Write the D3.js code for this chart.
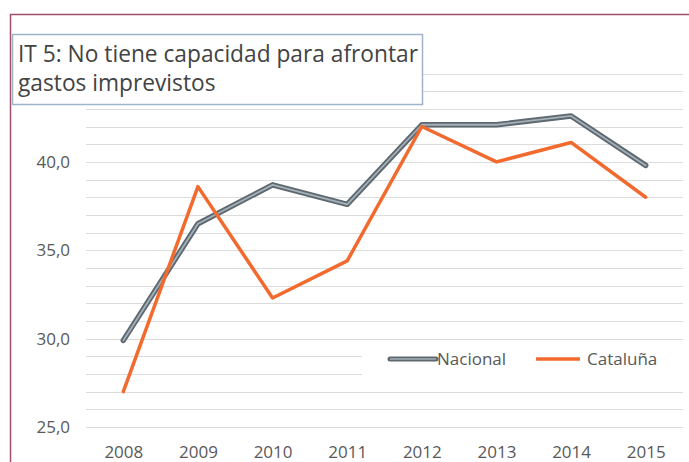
<!DOCTYPE html>
<html>
<head>
<meta charset="utf-8">
<script src="https://cdn.jsdelivr.net/npm/d3@7"></script>
<style>
  body { margin: 0; background: #fff; }
  text { font-family: "Open Sans", sans-serif; fill: #595959; }
</style>
</head>
<body>
<svg id="chart" width="689" height="462"></svg>
<script>
//chart data
var years = ["2008", "2009", "2010", "2011", "2012", "2013", "2014", "2015"];
var nacional = [29.9, 36.5, 38.7, 37.6, 42.1, 42.1, 42.6, 39.8];
var cataluna = [27.0, 38.6, 32.3, 34.4, 42.0, 40.0, 41.1, 38.0];
var seriesNames = ["Nacional", "Cataluña"];
var yTicks = [25, 30, 35, 40]; //the 45,0 label sits behind the title box
var titleLines = ["IT 5: No tiene capacidad para afrontar", "gastos imprevistos"];

var orange = "#f26a2e";
	grayOuter = "#5d6870";
	grayInner = "#a5afb6";
	gridColor = "#dcdcdc";

var svg = d3.select("#chart");

var x = d3.scalePoint()
	.domain(years)
	.range([86, 683])
	.padding(0.5);

var y = d3.scaleLinear()
	.domain([25, 45])
	.range([427, 73.5]);

//comma as decimal mark
var fmt = d3.formatLocale({decimal: ",", thousands: ".", grouping: [3], currency: ["", "€"]}).format(".1f");

//frame of the figure (only left and top edges are visible)
svg.append("rect")
	.attr("x", 10.5).attr("y", 14.5)
	.attr("width", 700).attr("height", 470)
	.attr("fill", "#fff")
	.attr("stroke", "#a24f6c")
	.attr("stroke-width", 1.5);

//gridlines every 1 unit
svg.append("g")
	.selectAll("line")
	.data(d3.range(25, 46))
	.enter().append("line")
	.attr("x1", 86).attr("x2", 683)
	.attr("y1", function(d){ return Math.round(y(d)) + 0.5; })
	.attr("y2", function(d){ return Math.round(y(d)) + 0.5; })
	.attr("stroke", gridColor)
	.attr("stroke-width", 1);

//y labels
svg.append("g")
	.selectAll("text")
	.data(yTicks)
	.enter().append("text")
	.attr("x", 70)
	.attr("y", function(d){ return y(d); })
	.attr("dy", "0.36em")
	.attr("text-anchor", "end")
	.attr("font-size", "17px")
	.text(function(d){ return fmt(d); });

//x labels
var xAxis = d3.axisBottom(x).tickSize(0).tickPadding(0);
var xg = svg.append("g")
	.attr("transform", "translate(0,446)")
	.call(xAxis);
xg.select(".domain").remove();
xg.selectAll("text")
	.attr("font-size", "17px")
	.attr("font-family", "Open Sans, sans-serif")
	.attr("fill", "#595959")
	.attr("dy", "0.71em");

//lines
var line = d3.line()
	.x(function(d, i){ return x(years[i]); })
	.y(function(d){ return y(d); });

svg.append("path")
	.attr("d", line(nacional))
	.attr("fill", "none")
	.attr("stroke", grayOuter)
	.attr("stroke-width", 5.5)
	.attr("stroke-linejoin", "round")
	.attr("stroke-linecap", "round");
svg.append("path")
	.attr("d", line(nacional))
	.attr("fill", "none")
	.attr("stroke", grayInner)
	.attr("stroke-width", 1.8)
	.attr("stroke-linejoin", "round")
	.attr("stroke-linecap", "round");
svg.append("path")
	.attr("d", line(cataluna))
	.attr("fill", "none")
	.attr("stroke", orange)
	.attr("stroke-width", 3.5)
	.attr("stroke-linejoin", "round")
	.attr("stroke-linecap", "round");

//legend with white background covering the grid
var legend = svg.append("g");
legend.append("rect")
	.attr("x", 362).attr("y", 343)
	.attr("width", 330).attr("height", 32)
	.attr("fill", "#fff");
var legY = 359;
legend.append("line")
	.attr("x1", 390).attr("x2", 436).attr("y1", legY).attr("y2", legY)
	.attr("stroke", grayOuter).attr("stroke-width", 5).attr("stroke-linecap", "round");
legend.append("line")
	.attr("x1", 390).attr("x2", 436).attr("y1", legY).attr("y2", legY)
	.attr("stroke", grayInner).attr("stroke-width", 1.6);
legend.append("text")
	.attr("x", 437).attr("y", legY).attr("dy", "0.36em")
	.attr("font-size", "17px")
	.text(seriesNames[0]);
legend.append("line")
	.attr("x1", 536).attr("x2", 580).attr("y1", legY).attr("y2", legY)
	.attr("stroke", orange).attr("stroke-width", 3.5);
legend.append("text")
	.attr("x", 587).attr("y", legY).attr("dy", "0.36em")
	.attr("font-size", "17px")
	.text(seriesNames[1]);

//title box
var titleG = svg.append("g");
titleG.append("rect")
	.attr("x", 12.5).attr("y", 34.5)
	.attr("width", 410).attr("height", 70)
	.attr("fill", "#fff")
	.attr("stroke", "#9fb4c9")
	.attr("stroke-width", 1.5);
var titleText = titleG.selectAll(".title")
	.data(titleLines)
	.enter().append("text")
	.attr("class", "title")
	.attr("x", 18)
	.attr("y", function(d, i){ return 62 + i * 28.5; })
	.attr("font-size", "20px")
	.style("fill", "#434343")
	.text(function(d){ return d; });

//fit first title line to about 400px wide
var w = titleText.node().getComputedTextLength();
var fs = 20 * 400 / w;
titleText.attr("font-size", fs + "px");
</script>
</body>
</html>
